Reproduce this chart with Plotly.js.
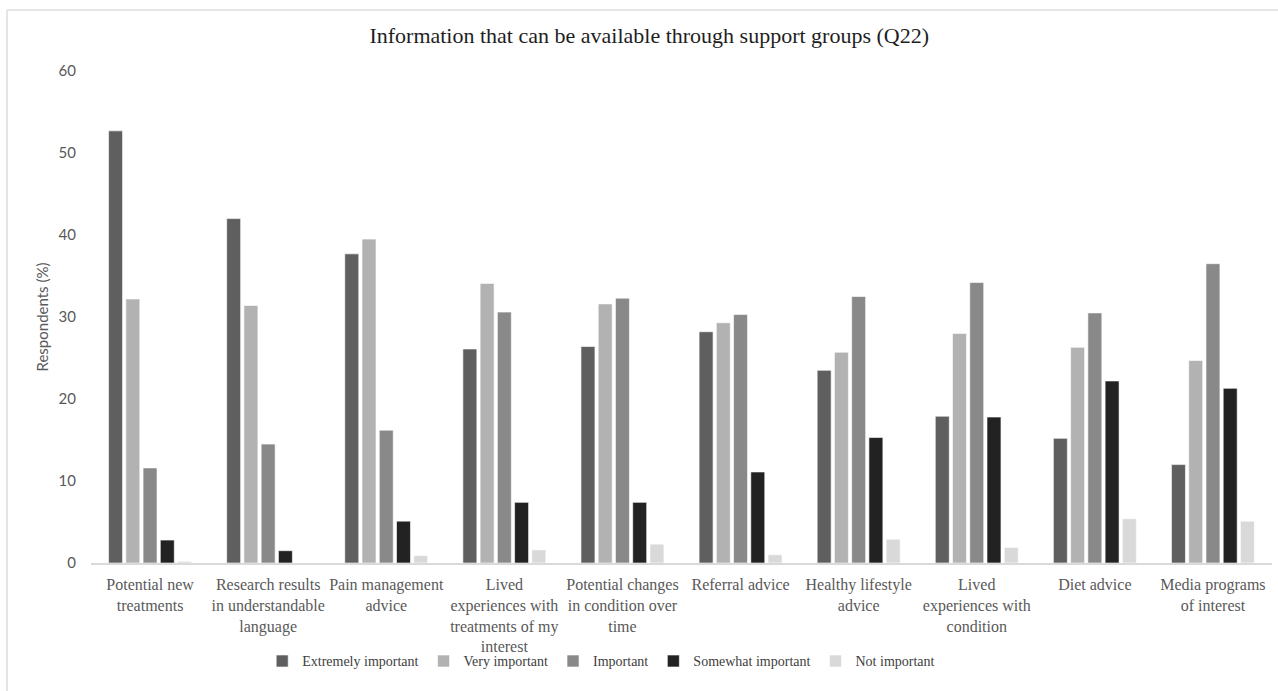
<!DOCTYPE html>
<html>
<head>
<meta charset="utf-8">
<script src="https://cdn.plot.ly/plotly-3.0.1.min.js"></script>
<style>
  html, body { margin: 0; padding: 0; background: #ffffff; }
  #chart { width: 1278px; height: 691px; }
</style>
</head>
<body>
<div id="chart"></div>
<script>
const categories = [
  "Potential new<br>treatments",
  "Research results<br>in understandable<br>language",
  "Pain management<br>advice",
  "Lived<br>experiences with<br>treatments of my<br>interest",
  "Potential changes<br>in condition over<br>time",
  "Referral advice",
  "Healthy lifestyle<br>advice",
  "Lived<br>experiences with<br>condition",
  "Diet advice",
  "Media programs<br>of interest"
];

const seriesNames = ["Extremely important", "Very important", "Important", "Somewhat important", "Not important"];
const seriesColors = ["#5f5f5f", "#b2b2b2", "#898989", "#222222", "#d9d9d9"];

const extremelyImportant = [52.7, 42.0, 37.7, 26.1, 26.4, 28.2, 23.5, 17.9, 15.2, 12.0];
const veryImportant      = [32.2, 31.4, 39.5, 34.1, 31.6, 29.3, 25.7, 28.0, 26.3, 24.7];
const important          = [11.6, 14.5, 16.2, 30.6, 32.3, 30.3, 32.5, 34.2, 30.5, 36.5];
const somewhatImportant  = [2.8, 1.5, 5.1, 7.4, 7.4, 11.1, 15.3, 17.8, 22.2, 21.3];
const notImportant       = [0.2, 0.0, 0.9, 1.6, 2.3, 1.0, 2.9, 1.9, 5.4, 5.1];

const seriesValues = [extremelyImportant, veryImportant, important, somewhatImportant, notImportant];

const traces = seriesValues.map((vals, i) => ({
  type: "bar",
  name: seriesNames[i],
  x: categories,
  y: vals,
  marker: { color: seriesColors[i], line: { color: "#ffffff", width: 0.6 } },
  hoverinfo: "x+y+name"
}));

const serif = "'Liberation Serif', 'DejaVu Serif', serif";
const sans = "Lato, 'Open Sans', 'Liberation Sans', sans-serif";

const layout = {
  width: 1278,
  height: 691,
  margin: { l: 91, r: 6, t: 71, b: 128, pad: 0 },
  paper_bgcolor: "#ffffff",
  plot_bgcolor: "#ffffff",
  barmode: "group",
  bargap: 0.27,
  bargroupgap: 0.19,
  showlegend: true,
  title: {
    text: "Information that can be available through support groups (Q22)",
    font: { family: serif, size: 22, color: "#1e1e1e" },
    x: 0.508, xref: "container", xanchor: "center",
    y: 40, yref: "container", yanchor: "middle"
  },
  xaxis: {
    type: "category",
    showgrid: false,
    zeroline: false,
    showline: true,
    linecolor: "#d9d9d9",
    linewidth: 1.5,
    ticks: "",
    tickangle: 0,
    ticklabelstandoff: 6,
    tickfont: { family: serif, size: 16, color: "#595959" },
    automargin: false
  },
  yaxis: {
    range: [0, 60],
    dtick: 10,
    showgrid: false,
    zeroline: false,
    showline: false,
    ticks: "",
    ticklabelstandoff: 14,
    tickfont: { family: sans, size: 15, color: "#595959" },
    title: {
      text: "Respondents (%)",
      font: { family: sans, size: 15, color: "#595959" },
      standoff: 6
    },
    automargin: false
  },
  legend: {
    orientation: "h",
    x: 0.432, xanchor: "center",
    y: -0.2, yanchor: "middle",
    font: { family: serif, size: 14, color: "#404040" },
    itemwidth: 30,
    traceorder: "normal",
    bgcolor: "rgba(0,0,0,0)"
  },
  shapes: [
    { type: "line", xref: "paper", yref: "paper", x0: -0.0711, x1: 1.2, y0: 1.124, y1: 1.124,
      line: { color: "#dcdcdc", width: 1.5 } },
    { type: "line", xref: "paper", yref: "paper", x0: -0.0711, x1: -0.0711, y0: 1.124, y1: -0.4,
      line: { color: "#dcdcdc", width: 1.5 } }
  ]
};

Plotly.newPlot("chart", traces, layout, { displayModeBar: false, responsive: false });
</script>
</body>
</html>
